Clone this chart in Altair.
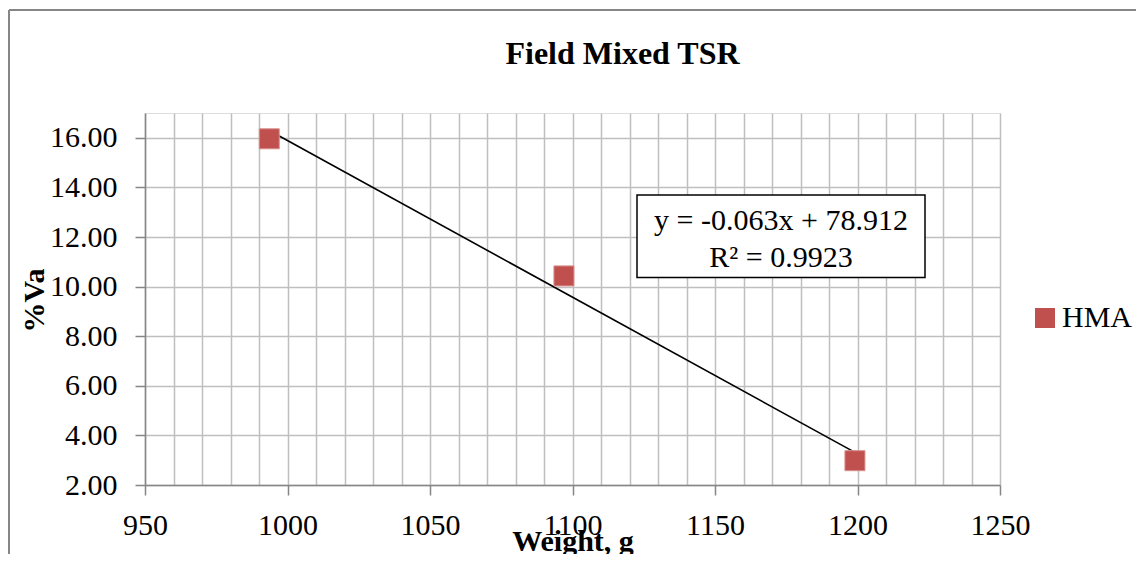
import altair as alt
import pandas as pd

# ---- data ----
weights = [993.6, 1097.0, 1199.1]
va_pct = [15.96, 10.43, 2.98]
series = ["HMA", "HMA", "HMA"]
x_tick_values = list(range(950, 1251, 10))
y_tick_values = [2, 4, 6, 8, 10, 12, 14, 16]
x_domain = [950, 1250]
y_domain = [2, 17]
chart_title = "Field Mixed TSR"
x_title = "Weight, g"
y_title = "%Va"
eq_line1 = "y = -0.063x + 78.912"
eq_line2 = "R² = 0.9923"

df = pd.DataFrame({"weight": weights, "va": va_pct, "series": series})
one = pd.DataFrame({"k": [0]})

FONT = "Liberation Serif"
W, H = 855, 372
RED = "#C0504D"
GRID = "#BFBFBF"
AXIS = "#868686"

x_scale = alt.Scale(domain=x_domain, nice=False, zero=False)
y_scale = alt.Scale(domain=y_domain, nice=False, zero=False)

x_axis = alt.Axis(
    values=x_tick_values,
    format="d",
    labelExpr="datum.value % 50 === 0 ? datum.label : ''",
    labelFont=FONT, labelFontSize=30, labelColor="black", labelPadding=15,
    labelBaseline="top", labelFlush=False, labelOverlap=False, labelBound=False,
    tickSize=10, tickWidth=1.5,
    tickColor={"condition": {"test": "datum.value % 50 === 0", "value": AXIS}, "value": "transparent"},
    grid=True, gridColor=GRID, gridWidth=1.5,
    domainColor=AXIS, domainWidth=1.5,
    title=x_title, titleFont=FONT, titleFontSize=30, titleFontWeight="bold",
    titleColor="black", titleX=W / 2, titleY=65, titleBaseline="alphabetic",
    titleAlign="center",
)
y_axis = alt.Axis(
    values=y_tick_values,
    format=".2f",
    labelFont=FONT, labelFontSize=30, labelColor="black", labelPadding=18,
    labelFlush=False, labelOverlap=False, labelBound=False,
    tickSize=10, tickWidth=1.5, tickColor=AXIS,
    grid=True, gridColor=GRID, gridWidth=1.5,
    domainColor=AXIS, domainWidth=1.5,
    title=y_title, titleFont=FONT, titleFontSize=30, titleFontWeight="bold",
    titleColor="black", titleX=-102, titleY=187, titleBaseline="alphabetic",
    titleAlign="center", titleAngle=270,
)

x_enc = alt.X("weight:Q", scale=x_scale, axis=x_axis)
y_enc = alt.Y("va:Q", scale=y_scale, axis=y_axis)

base = alt.Chart(df)

trend = base.transform_regression("weight", "va").mark_line(
    color="black", strokeWidth=1.6
).encode(x=x_enc, y=y_enc)

points = base.mark_square(size=400, filled=True, opacity=1, stroke="#D98E8C", strokeWidth=1).encode(
    x=x_enc,
    y=y_enc,
    color=alt.Color(
        "series:N",
        scale=alt.Scale(domain=["HMA"], range=[RED]),
        legend=alt.Legend(
            orient="none", legendX=885, legendY=190, title=None,
            symbolType="square", symbolSize=400, symbolStrokeWidth=0,
            labelFont=FONT, labelFontSize=30, labelColor="black",
            labelOffset=2, padding=0,
        ),
    ),
)

eq_box = alt.Chart(one).mark_rect(fill="white", stroke="black", strokeWidth=1.5).encode(
    x=alt.value(492), x2=alt.value(780), y=alt.value(82), y2=alt.value(164.5)
)
eq_t1 = alt.Chart(one).mark_text(
    font=FONT, fontSize=30, color="black", align="center", baseline="alphabetic"
).encode(x=alt.value(636), y=alt.value(117), text=alt.value(eq_line1))
eq_t2 = alt.Chart(one).mark_text(
    font=FONT, fontSize=30, color="black", align="center", baseline="alphabetic"
).encode(x=alt.value(636), y=alt.value(153.5), text=alt.value(eq_line2))

title_t = alt.Chart(one).mark_text(
    font=FONT, fontSize=32, fontWeight="bold", color="black", align="center", baseline="alphabetic"
).encode(x=alt.value(477.5), y=alt.value(-48.7), text=alt.value(chart_title))

frame_top = alt.Chart(one).mark_rule(color=AXIS, strokeWidth=2).encode(
    x=alt.value(-136), x2=alt.value(995), y=alt.value(-103)
)
frame_left = alt.Chart(one).mark_rule(color=AXIS, strokeWidth=2).encode(
    x=alt.value(-136), y=alt.value(-103), y2=alt.value(445)
)

chart = alt.layer(
    trend, points, eq_box, eq_t1, eq_t2, title_t, frame_top, frame_left
).properties(
    width=W, height=H,
    autosize=alt.AutoSizeParams(type="none"),
    padding={"left": 137, "top": 105, "right": 136, "bottom": 69},
).configure_view(
    stroke="black", strokeWidth=1.5
).configure(background="white")

chart.save("out.html", embed_options={"renderer": "svg", "actions": False})
